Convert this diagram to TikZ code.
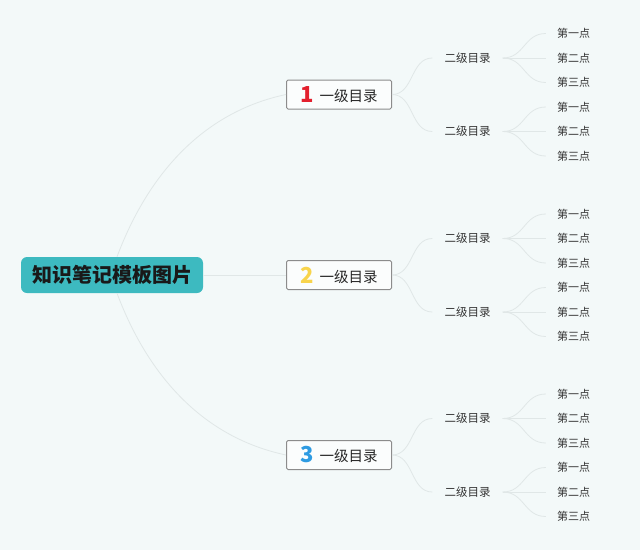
\documentclass[tikz,border=0pt]{standalone}
\usepackage{fontspec}
\setmainfont{Noto Sans CJK SC}
\usetikzlibrary{positioning}
\definecolor{bgc}{HTML}{F3F9F9}
\definecolor{rootc}{HTML}{3DBAC0}
\definecolor{linec}{HTML}{E0E7E7}
\definecolor{boxc}{HTML}{8C8C8C}
\definecolor{numred}{HTML}{E3202E}
\definecolor{numyel}{HTML}{F8D44C}
\definecolor{numblu}{HTML}{2E9BE2}

\begin{document}
\begin{tikzpicture}[x=1pt, y=-1pt,
 root/.style={fill=rootc, rounded corners=6pt, minimum width=182pt, minimum height=36pt, inner sep=0pt, font=\fontsize{20}{20}\selectfont\bfseries, text=black!90},
 topic/.style={draw=boxc, line width=1pt, fill=white!70!bgc, rounded corners=1.5pt, minimum width=105pt, minimum height=29pt, inner sep=0pt, font=\fontsize{14.5}{15}\selectfont, text=black!85},
 sub/.style={inner xsep=12pt, font=\fontsize{11.5}{12}\selectfont, text=black!80},
 leaf/.style={inner xsep=11pt, font=\fontsize{11}{12}\selectfont, text=black!80},
 link/.style={draw=linec, line width=0.8pt}]

 % --- background and margins ---
 \fill[bgc] (0,0) rectangle (640,550);

 % --- root and first level ---
 \node[root] (root) at (112,275) {知识笔记模板图片};
 \node[topic] (t1) at (339,94.5) {\textcolor{numred}{\fontsize{22}{22}\selectfont\bfseries 1}\hspace{6pt}\raisebox{1pt}{一级目录}};
 \node[topic] (t2) at (339,275) {\textcolor{numyel}{\fontsize{22}{22}\selectfont\bfseries 2}\hspace{6pt}\raisebox{1pt}{一级目录}};
 \node[topic] (t3) at (339,455) {\textcolor{numblu}{\fontsize{22}{22}\selectfont\bfseries 3}\hspace{6pt}\raisebox{1pt}{一级目录}};

 \draw[link] ([xshift=5pt]root.north) .. controls +(30,-80) and +(-85,18) .. (t1.west);
 \draw[link] (root.east) -- (t2.west);
 \draw[link] ([xshift=5pt]root.south) .. controls +(30,80) and +(-85,-18) .. (t3.west);

 % --- second level and points ---
 \foreach \t/\ty in {1/94.5, 2/275, 3/455} {
  \foreach \s/\dy in {1/-36.5, 2/37} {
   \node[sub] (s\t\s) at (467.5, {\ty+\dy}) {二级目录};
   \draw[link] (t\t.east) .. controls +(22,0) and +(-22,0) .. (s\t\s.west);
   \foreach \p/\py/\txt in {1/-24.5/第一点, 2/0/第二点, 3/24.5/第三点} {
    \node[leaf] (p\t\s\p) at (573.5, {\ty+\dy+\py}) {\txt};
    \draw[link] (s\t\s.east) .. controls +(22,0) and +(-22,0) .. (p\t\s\p.west);
   }
  }
 }
\end{tikzpicture}
\end{document}
